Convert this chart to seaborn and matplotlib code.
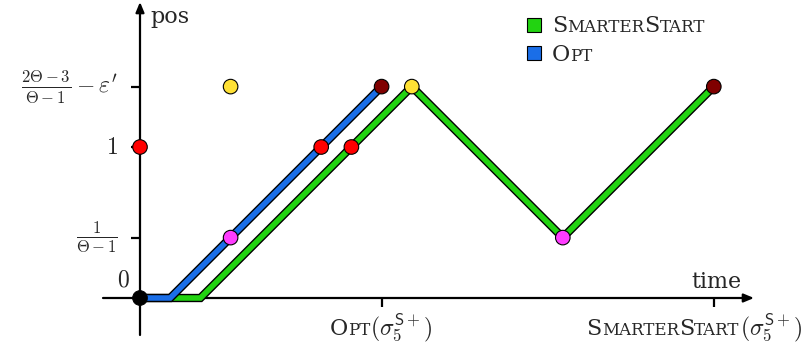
import matplotlib
matplotlib.use('Agg')
import matplotlib.pyplot as plt
import matplotlib.patheffects as pe
from matplotlib.transforms import ScaledTranslation
import seaborn as sns

# data (units: 1 = one "pos" unit)
opt_x = [0, 0.2, 1.6]
opt_y = [0, 0, 1.4]
ss_x = [0, 0.4, 1.8, 2.8, 3.8]
ss_y = [0, 0, 1.4, 0.4, 1.4]
dot_x = [0, 0, 0.6, 0.6, 1.2, 1.4, 1.6, 1.8, 2.8, 3.8]
dot_y = [0, 1, 1.4, 0.4, 1, 1, 1.4, 1.4, 0.4, 1.4]
dot_kind = ['black', 'red', 'yellow', 'pink', 'red', 'red', 'dark', 'yellow', 'pink', 'dark']
ytick_vals = [0.4, 1, 1.4]
ytick_labels = [r'$\frac{1}{\Theta-1}$', r'$1$', r'$\frac{2\Theta-3}{\Theta-1}-\varepsilon^{\prime}$']
xtick_vals = [1.6, 3.8]

BLUE = '#1a6ee8'
GREEN = '#22d311'
palette = {'black': 'black', 'red': '#ff0000', 'yellow': '#ffe135',
           'pink': '#ff3cff', 'dark': '#800000'}

sns.set_style('white')
plt.rcParams['font.family'] = ['DejaVu Serif']
plt.rcParams['mathtext.fontset'] = 'cm'

U = 151.0  # pixels per unit
fig = plt.figure(figsize=(8.11, 3.51), dpi=100)
ax = fig.add_axes([0, 0, 1, 1])
ax.set_xlim(-140 / U, 671 / U)
ax.set_ylim(-53 / U, 298 / U)
ax.axis('off')


def P(px, py):
    return ((px - 140) / U, (298 - py) / U)


# axes with arrows
for start, end in [(P(103, 298), P(754, 298)), (P(140, 335), P(140, 2))]:
    ax.annotate('', xy=end, xytext=start,
                arrowprops=dict(arrowstyle='-|>,head_length=0.6,head_width=0.25',
                                lw=1.6, color='black', shrinkA=0, shrinkB=0))

# ticks
for v in ytick_vals:
    ax.plot([-9 / U, 0], [v, v], color='black', lw=1.6, solid_capstyle='butt')
for v in xtick_vals:
    ax.plot([v, v], [0, -9 / U], color='black', lw=1.6, solid_capstyle='butt')

for v, lab in zip(ytick_vals, ytick_labels):
    ax.text(-22 / U, v, lab, ha='right', va='center', fontsize=17)
ax.text(*P(123, 280), r'$0$', ha='center', va='center', fontsize=17)

# lines
outline = [pe.Stroke(linewidth=6, foreground='black'), pe.Normal()]
sns.lineplot(x=ss_x, y=ss_y, sort=False, estimator=None, color=GREEN, lw=4, ax=ax, zorder=3)
ax.lines[-1].set_path_effects(outline)
ax.lines[-1].set_solid_joinstyle('miter')
sns.lineplot(x=opt_x, y=opt_y, sort=False, estimator=None, color=BLUE, lw=4, ax=ax, zorder=4)
ax.lines[-1].set_path_effects(outline)
ax.lines[-1].set_solid_joinstyle('miter')

sns.scatterplot(x=dot_x, y=dot_y, hue=dot_kind, palette=palette, s=110,
                edgecolor='black', linewidth=0.8, legend=False, ax=ax, zorder=6)


# small caps helper
def smallcaps(x, y, parts, ha='left'):
    texts = [ax.text(x, y, s, fontsize=fs, ha='left', va='baseline') for s, fs in parts]
    r = fig.canvas.get_renderer()
    widths = [t.get_window_extent(r).width for t in texts]
    off = 0 if ha == 'left' else (-sum(widths) / 2 if ha == 'center' else -sum(widths))
    for t, w in zip(texts, widths):
        t.set_transform(ax.transData + ScaledTranslation(off / fig.dpi, 0, fig.dpi_scale_trans))
        off += w


BIG, SMALL = 16, 12
ss_parts = [('S', BIG), ('MARTER', SMALL), ('S', BIG), ('TART', SMALL)]
opt_parts = [('O', BIG), ('PT', SMALL)]
sig = (r'$(\sigma_5^{\mathsf{S}+})$', 17)

# axis names
ax.text(*P(150, 23), 'pos', ha='left', va='baseline', fontsize=16)
ax.text(*P(742, 288), 'time', ha='right', va='baseline', fontsize=16)

# x tick labels
smallcaps(*P(381, 335), opt_parts + [sig], ha='center')
smallcaps(*P(802, 335), ss_parts + [sig], ha='right')

# legend
ax.plot(*P(534, 25), marker='s', ms=10, color=GREEN, mec='black', mew=0.8)
ax.plot(*P(534, 53), marker='s', ms=10, color=BLUE, mec='black', mew=0.8)
smallcaps(*P(552, 32), ss_parts)
smallcaps(*P(552, 61), opt_parts)

fig.savefig('out.png', dpi=100)
